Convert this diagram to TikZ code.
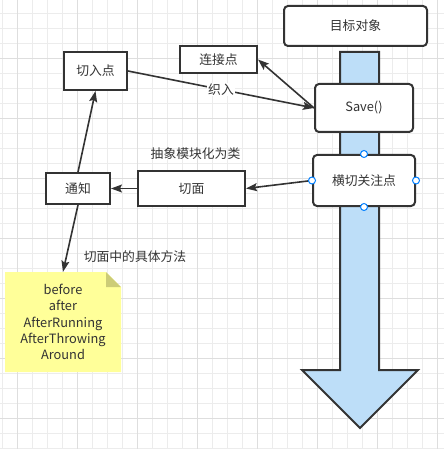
\documentclass[tikz,border=0pt]{standalone}
\usepackage{fontspec}
\setmainfont{Noto Sans CJK SC}
\usetikzlibrary{arrows.meta}
\definecolor{ink}{RGB}{51,51,51}
\definecolor{shaft}{RGB}{189,222,248}
\definecolor{notefill}{RGB}{255,255,153}
\definecolor{notefold}{RGB}{204,204,119}
\definecolor{handleblue}{RGB}{0,127,255}
\definecolor{gridminor}{RGB}{236,236,236}
\definecolor{gridmajor}{RGB}{222,222,222}
\begin{document}
\begin{tikzpicture}[x=1pt, y=-1pt,
        font=\fontsize{12.8}{16.2}\selectfont,
        box/.style={draw=ink, line width=2pt, inner sep=0pt, text=ink},
        rbox/.style={box, rounded corners=4pt},
        link/.style={draw=ink, line width=1.6pt, -{Stealth[length=11pt, width=8pt, inset=2pt]}},
        lbl/.style={fill=white, inner sep=1pt, text=ink},
        handle/.style={circle, draw=handleblue, fill=white, line width=1pt, minimum size=7pt, inner sep=0pt}
    ]
        \useasboundingbox (0,0) rectangle (444,449);
        % grid
        \foreach \x in {2,17,...,437} \draw[gridminor, line width=0.8pt] (\x,0) -- (\x,449);
        \foreach \y in {13,28,...,448} \draw[gridminor, line width=0.8pt] (0,\y) -- (444,\y);
        \foreach \x in {17,77,...,437} \draw[gridmajor, line width=0.8pt] (\x,0) -- (\x,449);
        \foreach \y in {58,118,...,418} \draw[gridmajor, line width=0.8pt] (0,\y) -- (444,\y);

        % big arrow
        \draw[ink, fill=shaft, line width=2pt] (340,52) -- (379,52) -- (379,370) -- (418,370)
            -- (360,428) -- (302,370) -- (340,370) -- cycle;

        \node[rbox, fill=white, minimum width=143pt, minimum height=40pt] (target) at (355.5,26) {目标对象};
        \node[rbox, fill=white, minimum width=98pt, minimum height=48pt] (save) at (364,108) {Save()};
        \node[rbox, fill=white, minimum width=102pt, minimum height=51pt] (cross) at (364,180.5) {横切关注点};
        \node[box, fill=white, minimum width=77pt, minimum height=27pt] (join) at (218.5,59.5) {连接点};
        \node[box, fill=white, minimum width=63pt, minimum height=38pt] (point) at (95.5,71) {切入点};
        \node[box, fill=white, minimum width=107pt, minimum height=35pt] (aspect) at (191.5,188.5) {切面};
        \node[box, fill=white, minimum width=64pt, minimum height=31pt] (advice) at (78,188.5) {通知};

        % note
        \fill[notefill] (5,272) -- (106,272) -- (121,287) -- (121,372) -- (5,372) -- cycle;
        \fill[notefold] (106,272) -- (106,287) -- (121,287) -- cycle;
        \node[text=ink, align=center, minimum width=116pt, minimum height=100pt, inner sep=0pt] (note) at (63,322)
            {before\\after\\AfterRunning\\AfterThrowing\\Around};

        \node[text=ink] (abstr) at (195.5,154) {抽象模块化为类};
        \node[text=ink] (method) at (135,257) {切面中的具体方法};

        \draw[link] (point.east) -- node[lbl, pos=0.5] {织入} (save.west);
        \draw[link] (save.west) -- (join.east);
        \draw[link] (cross.west) -- (aspect.east);
        \draw[link] (aspect.west) -- (advice.east);
        \draw[link] (advice.north) -- (point.south);
        \draw[link] (advice.south) -- (note.north);

        \foreach \a in {north,south,east,west}
            \node[handle] at (cross.\a) {};
    \end{tikzpicture}
\end{document}
